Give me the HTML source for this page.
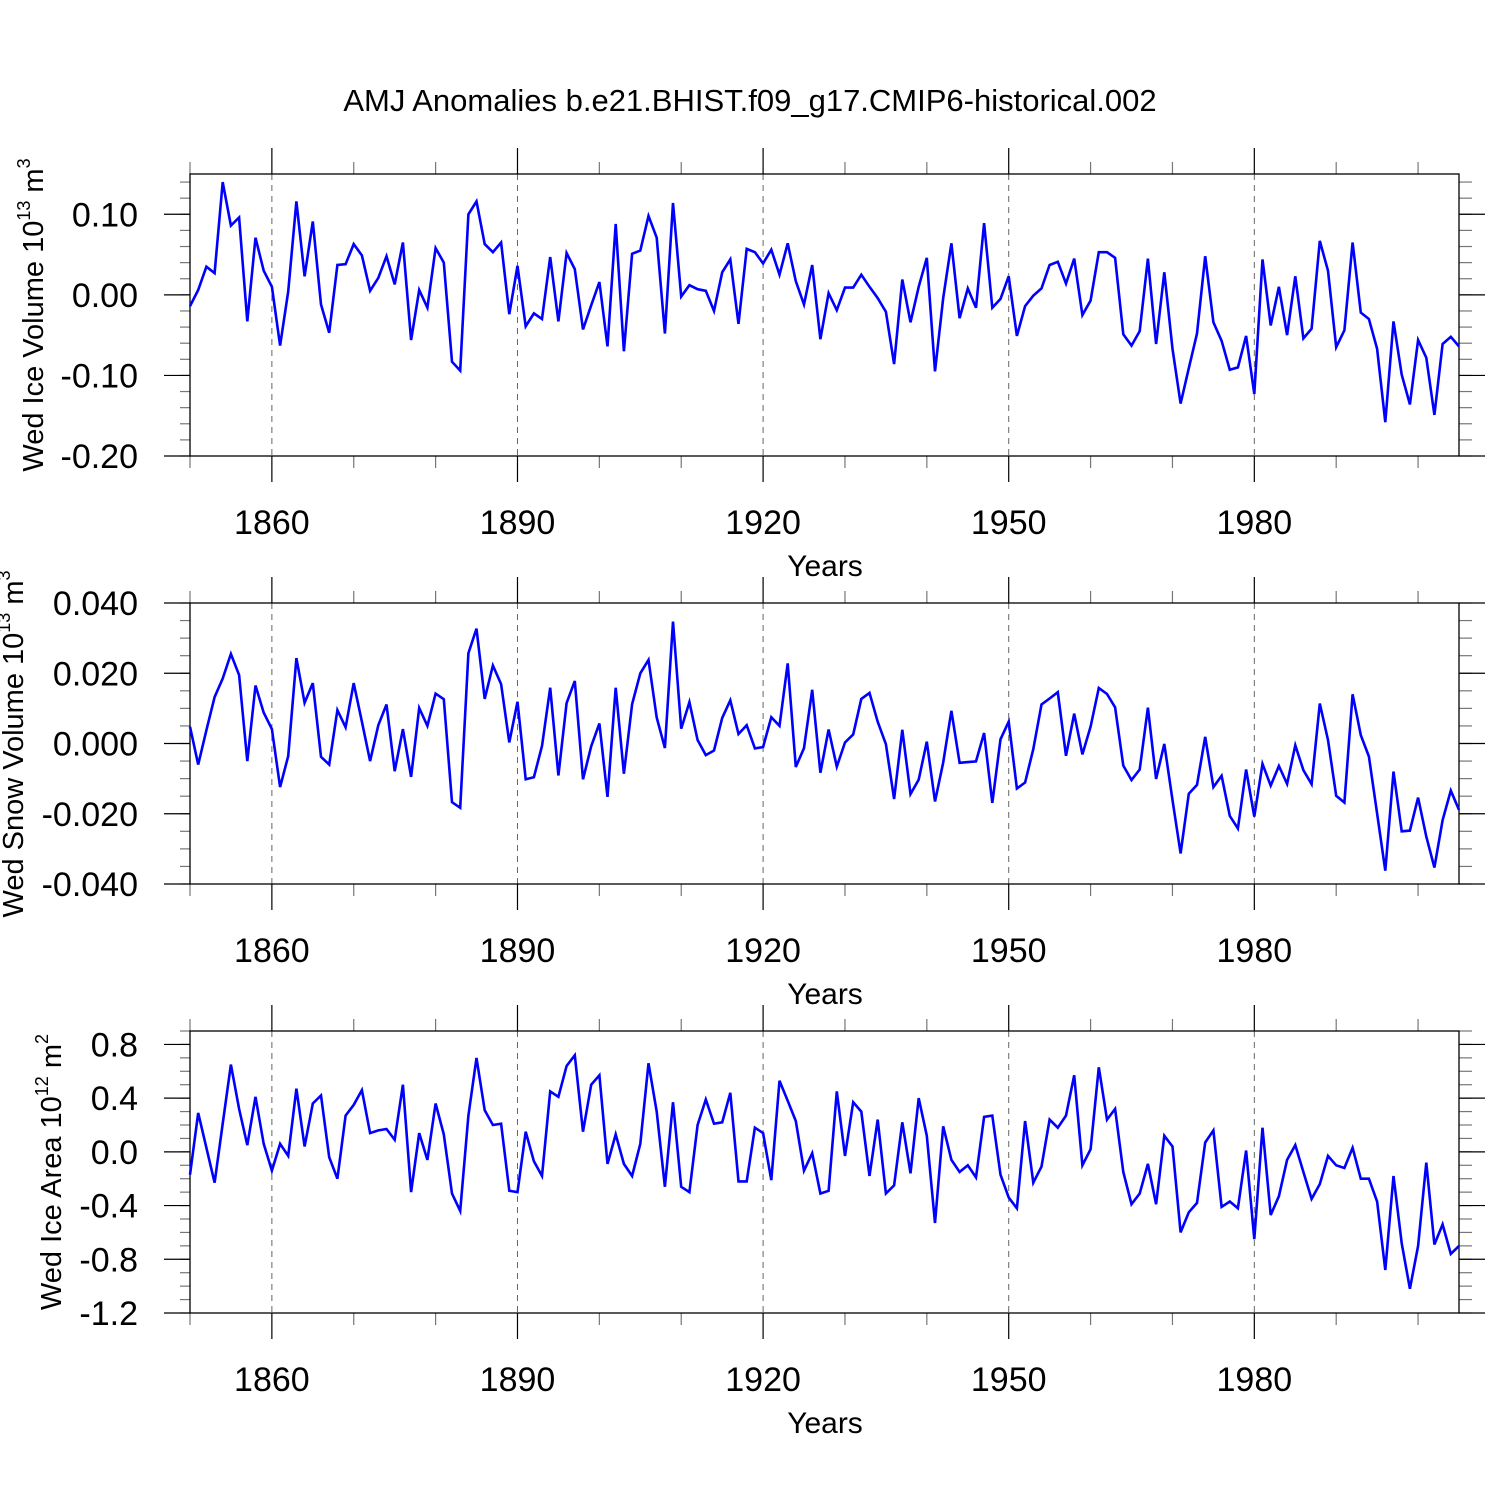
<!DOCTYPE html>
<html><head><meta charset="utf-8"><style>
html,body{margin:0;padding:0;background:#fff;}
svg{display:block;font-family:"Liberation Sans",Arial,sans-serif;}
</style></head><body>
<svg id="chart" width="1500" height="1500" viewBox="0 0 1500 1500" xmlns="http://www.w3.org/2000/svg">
<rect width="1500" height="1500" fill="#fff"/>
<text x="750" y="111" font-size="31" text-anchor="middle">AMJ Anomalies b.e21.BHIST.f09_g17.CMIP6-historical.002</text>
</svg>
<script>
const startYear = 1850;
const endYear = 2005;
const xTickYears = [1860, 1890, 1920, 1950, 1980];
const iceVolume = [-0.014,0.006,0.035,0.027,0.140,0.086,0.096,-0.033,0.071,0.030,
0.010,-0.063,0.004,0.116,0.023,0.091,-0.012,-0.047,0.037,0.038,
0.063,0.049,0.005,0.021,0.048,0.013,0.065,-0.056,0.006,-0.016,
0.058,0.040,-0.083,-0.094,0.100,0.116,0.063,0.053,0.065,-0.024,
0.036,-0.039,-0.023,-0.030,0.047,-0.033,0.052,0.032,-0.043,-0.013,
0.016,-0.064,0.088,-0.070,0.051,0.055,0.098,0.071,-0.048,0.114,
-0.002,0.012,0.007,0.005,-0.020,0.028,0.044,-0.036,0.057,0.053,
0.039,0.056,0.025,0.064,0.017,-0.012,0.037,-0.055,0.002,-0.019,
0.009,0.009,0.025,0.010,-0.004,-0.021,-0.086,0.019,-0.034,0.010,
0.046,-0.095,-0.004,0.064,-0.029,0.008,-0.016,0.089,-0.016,-0.005,
0.023,-0.051,-0.014,-0.001,0.008,0.037,0.041,0.014,0.045,-0.025,
-0.007,0.053,0.053,0.046,-0.049,-0.063,-0.045,0.045,-0.061,0.028,
-0.067,-0.135,-0.091,-0.048,0.048,-0.034,-0.057,-0.093,-0.090,-0.051,
-0.123,0.044,-0.038,0.010,-0.050,0.023,-0.054,-0.042,0.067,0.030,
-0.065,-0.044,0.065,-0.022,-0.030,-0.067,-0.158,-0.033,-0.099,-0.136,
-0.056,-0.078,-0.149,-0.061,-0.052,-0.064];
const snowVolume = [0.0048,-0.0060,0.0038,0.0132,0.0185,0.0255,0.0195,-0.0050,0.0165,0.0088,
0.0041,-0.0124,-0.0036,0.0243,0.0116,0.0172,-0.0038,-0.0060,0.0095,0.0046,
0.0172,0.0062,-0.0050,0.0052,0.0111,-0.0079,0.0041,-0.0095,0.0101,0.0050,
0.0142,0.0126,-0.0167,-0.0183,0.0257,0.0327,0.0127,0.0222,0.0169,0.0003,
0.0119,-0.0102,-0.0096,-0.0007,0.0159,-0.0091,0.0115,0.0178,-0.0102,-0.0008,
0.0057,-0.0152,0.0159,-0.0086,0.0112,0.0200,0.0238,0.0074,-0.0013,0.0347,
0.0042,0.0118,0.0010,-0.0033,-0.0020,0.0073,0.0123,0.0027,0.0052,-0.0014,
-0.0010,0.0075,0.0050,0.0228,-0.0067,-0.0013,0.0153,-0.0083,0.0040,-0.0066,
0.0003,0.0026,0.0127,0.0144,0.0062,-0.0002,-0.0158,0.0039,-0.0144,-0.0103,
0.0005,-0.0165,-0.0054,0.0093,-0.0055,-0.0053,-0.0051,0.0030,-0.0169,0.0012,
0.0062,-0.0128,-0.0111,-0.0016,0.0111,0.0128,0.0146,-0.0035,0.0085,-0.0031,
0.0048,0.0158,0.0141,0.0103,-0.0063,-0.0104,-0.0074,0.0102,-0.0101,-0.0001,
-0.0161,-0.0313,-0.0143,-0.0118,0.0019,-0.0124,-0.0092,-0.0206,-0.0242,-0.0074,
-0.0208,-0.0058,-0.0120,-0.0064,-0.0115,-0.0005,-0.0076,-0.0116,0.0114,0.0010,
-0.0149,-0.0168,0.0140,0.0024,-0.0037,-0.0199,-0.0362,-0.0080,-0.0250,-0.0248,
-0.0154,-0.0265,-0.0353,-0.0218,-0.0134,-0.0189];
const iceArea = [-0.17,0.29,0.03,-0.23,0.21,0.65,0.32,0.05,0.41,0.06,
-0.14,0.06,-0.03,0.47,0.04,0.36,0.42,-0.04,-0.20,0.27,
0.35,0.46,0.14,0.16,0.17,0.09,0.50,-0.30,0.14,-0.06,
0.36,0.13,-0.31,-0.44,0.27,0.70,0.31,0.20,0.21,-0.29,
-0.30,0.15,-0.07,-0.18,0.45,0.41,0.64,0.72,0.15,0.50,
0.57,-0.09,0.13,-0.09,-0.18,0.06,0.66,0.30,-0.26,0.37,
-0.26,-0.30,0.20,0.39,0.21,0.22,0.44,-0.22,-0.22,0.18,
0.14,-0.21,0.53,0.38,0.23,-0.14,-0.01,-0.31,-0.29,0.45,
-0.03,0.37,0.30,-0.18,0.24,-0.31,-0.25,0.22,-0.16,0.40,
0.12,-0.53,0.19,-0.06,-0.15,-0.10,-0.19,0.26,0.27,-0.17,
-0.34,-0.42,0.23,-0.23,-0.11,0.24,0.18,0.27,0.57,-0.10,
0.02,0.63,0.24,0.32,-0.15,-0.39,-0.31,-0.09,-0.39,0.12,
0.04,-0.60,-0.45,-0.38,0.07,0.16,-0.41,-0.37,-0.42,0.01,
-0.65,0.18,-0.47,-0.33,-0.06,0.05,-0.15,-0.35,-0.24,-0.03,
-0.10,-0.12,0.03,-0.20,-0.20,-0.37,-0.88,-0.18,-0.68,-1.02,
-0.70,-0.08,-0.69,-0.54,-0.76,-0.70];
const iceVolTicks = [0.10, 0.00, -0.10, -0.20];
const iceVolTickLabels = ["0.10", "0.00", "-0.10", "-0.20"];
const snowTicks = [0.04, 0.02, 0, -0.02, -0.04];
const snowTickLabels = ["0.040", "0.020", "0.000", "-0.020", "-0.040"];
const areaTicks = [0.8, 0.4, 0, -0.4, -0.8, -1.2];
const areaTickLabels = ["0.8", "0.4", "0.0", "-0.4", "-0.8", "-1.2"];

const NS = "http://www.w3.org/2000/svg";
const svg = document.getElementById("chart");
const X0 = 190, X1 = 1459;
function xScale(yr){ return X0 + (yr - startYear) * (X1 - X0) / (endYear - startYear); }
function mk(tag, attrs, parent){
  const e = document.createElementNS(NS, tag);
  for (const k in attrs) e.setAttribute(k, attrs[k]);
  (parent || svg).appendChild(e);
  return e;
}
function drawPanel(cfg){
  const g = mk("g", {});
  
  
  const yS = v => cfg.yTop + (cfg.vMax - v) * (cfg.yBot - cfg.yTop) / (cfg.vMax - cfg.vMin);
  xTickYears.forEach(yr => {
    const l = mk("line", {x1:xScale(yr), x2:xScale(yr), y1:cfg.yTop, y2:cfg.yBot, stroke:"#666", "stroke-width":1, "stroke-dasharray":"6,5"}, g);
    
    
  });
  for (let yr = startYear; yr <= endYear; yr += 10) {
    const major = xTickYears.includes(yr);
    const len = major ? 26 : 12;
    const x = xScale(yr);
    const c = major ? "#000" : "#777";
    mk("line", {x1:x, x2:x, y1:cfg.yTop - len, y2:cfg.yTop, stroke:c, "stroke-width":1.2}, g);
    mk("line", {x1:x, x2:x, y1:cfg.yBot, y2:cfg.yBot + len, stroke:c, "stroke-width":1.2}, g);
  }
  xTickYears.forEach(yr => {
    const t = mk("text", {x:xScale(yr), y:cfg.yBot + 78, "font-size":34, "text-anchor":"middle"}, g);
    t.textContent = String(yr);
    
    
  });
  const yl = mk("text", {x:825, y:cfg.yBot + 120, "font-size":30, "text-anchor":"middle"}, g);
  yl.textContent = "Years";
  
  
  for (let v = cfg.vMin; v <= cfg.vMax + 1e-9; v += cfg.minor) {
    const y = yS(v);
    mk("line", {x1:X0 - 10, x2:X0, y1:y, y2:y, stroke:"#777", "stroke-width":1.2}, g);
    mk("line", {x1:X1, x2:X1 + 13, y1:y, y2:y, stroke:"#777", "stroke-width":1.2}, g);
  }
  cfg.ticks.forEach((v, i) => {
    const y = yS(v);
    mk("line", {x1:X0 - 26, x2:X0, y1:y, y2:y, stroke:"#000", "stroke-width":1.2}, g);
    mk("line", {x1:X1, x2:X1 + 26, y1:y, y2:y, stroke:"#000", "stroke-width":1.2}, g);
    const t = mk("text", {x:138, y:y + 12, "font-size":34, "text-anchor":"end"}, g);
    t.textContent = cfg.labels[i];
    
    
  });
  const fr = mk("rect", {x:X0, y:cfg.yTop, width:X1 - X0, height:cfg.yBot - cfg.yTop, fill:"none", stroke:"#000", "stroke-width":1.3}, g);
  
  
  const pts = cfg.data.map((v, i) => xScale(startYear + i).toFixed(1) + "," + yS(v).toFixed(1)).join(" ");
  const pl = mk("polyline", {points:pts, fill:"none", stroke:"#0000ff", "stroke-width":2.6, "stroke-linejoin":"miter"}, g);
  
  
  const yt = mk("text", {transform:"translate(" + cfg.titleX + "," + cfg.titleY + ") rotate(-90)", "font-size":29, "text-anchor":"middle"}, g);
  
  
  const t1 = document.createElementNS(NS, "tspan"); t1.textContent = cfg.titlePre + " 10"; yt.appendChild(t1);
  const t2 = document.createElementNS(NS, "tspan"); t2.setAttribute("font-size", "18"); t2.setAttribute("dy", "-13"); t2.textContent = cfg.exp1; yt.appendChild(t2);
  const t3 = document.createElementNS(NS, "tspan"); t3.setAttribute("dy", "13"); t3.textContent = " m"; yt.appendChild(t3);
  const t4 = document.createElementNS(NS, "tspan"); t4.setAttribute("font-size", "18"); t4.setAttribute("dy", "-13"); t4.textContent = cfg.exp2; yt.appendChild(t4);
}
drawPanel({name:"ice-volume-panel", yTop:174, yBot:456, vMax:0.15, vMin:-0.20, minor:0.02, ticks:iceVolTicks, labels:iceVolTickLabels, data:iceVolume, titleX:43, titleY:315, titlePre:"Wed Ice Volume", exp1:"13", exp2:"3"});
drawPanel({name:"snow-volume-panel", yTop:603, yBot:884, vMax:0.04, vMin:-0.04, minor:0.005, ticks:snowTicks, labels:snowTickLabels, data:snowVolume, titleX:23, titleY:744, titlePre:"Wed Snow Volume", exp1:"13", exp2:"3"});
drawPanel({name:"ice-area-panel", yTop:1031, yBot:1313, vMax:0.9, vMin:-1.2, minor:0.1, ticks:areaTicks, labels:areaTickLabels, data:iceArea, titleX:61, titleY:1172, titlePre:"Wed Ice Area", exp1:"12", exp2:"2"});
</script>
</body></html>
